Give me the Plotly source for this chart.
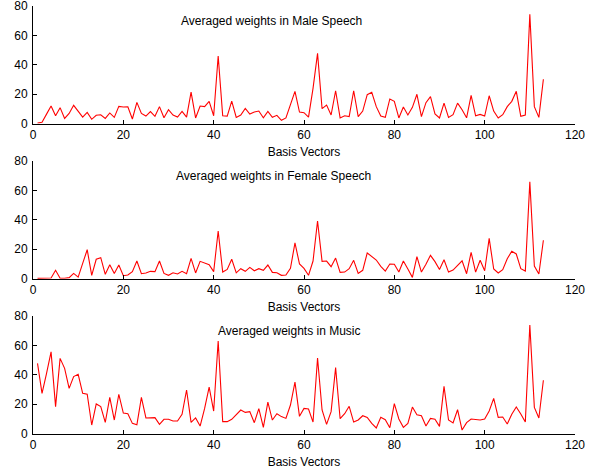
import plotly.graph_objects as go

basis = list(range(1, 114))

male = [0.5, 1, 6.5, 12, 5.4, 10.9, 3.6, 7, 12.5, 8.6,
        4.5, 7.7, 3, 5.7, 6.1, 3.6, 7.3, 4.3, 11.8, 11.3,
        11.5, 3.2, 14.5, 7, 5.2, 8.2, 5, 11.6, 4, 9.5,
        5.9, 4.5, 8.4, 4.5, 21.5, 3.9, 12, 11.6, 15.2, 5.4,
        46, 5.4, 5.2, 15.4, 4.3, 5.9, 10.4, 6.6, 7.9, 8.6,
        4, 8.4, 4.3, 5.7, 2.3, 3.9, 12.7, 22, 7.9, 7.5,
        4.5, 24, 47.8, 10.2, 12.7, 5.9, 22.4, 3.9, 5.4, 4.8,
        22.4, 4.8, 8.6, 19.7, 21.3, 11.6, 5.2, 4.3, 16.8, 15.2,
        3.9, 11.3, 5.9, 11.1, 20, 4.8, 14.3, 18.4, 6.6, 3.9,
        14, 4.3, 6.1, 14, 9.5, 4, 19.3, 5.4, 6.3, 5.2,
        19, 8.6, 3.9, 6.1, 11.6, 15.2, 22, 5, 5.9, 74.4,
        11.6, 4.3, 30.2]

female = [0.2, 0.2, 0.2, 0.5, 5.7, 0.3, 0.3, 0.7, 3.6, 1.1,
          10.4, 19.7, 2.3, 13.2, 14.3, 3, 9.5, 3.6, 9.3, 2,
          2.5, 4.8, 12, 3.4, 3.9, 5, 4.8, 12, 3.6, 2.3,
          4, 3.2, 5, 3.4, 13.8, 3.9, 11.8, 10.7, 9.5, 4.8,
          32.4, 4.5, 6.3, 13.2, 4, 6.8, 5, 7.7, 5.4, 6.8,
          5.7, 9.3, 4.3, 4, 2.3, 2.5, 7, 24.3, 10, 7,
          2.3, 12, 39.2, 11.8, 12, 8.2, 14, 4.3, 4.5, 6.8,
          12.5, 3.6, 5.7, 17.5, 15, 12.7, 8.4, 5.2, 10, 9.8,
          4.5, 12, 6.6, 0.9, 15, 4.5, 9.8, 15.9, 11.6, 6.3,
          12.9, 4.5, 5.9, 9.3, 12.2, 3.4, 17.9, 4.5, 12.5, 5.4,
          27.4, 6.6, 3.9, 6.1, 13.6, 18.6, 16.8, 6.8, 5.2, 65.8,
          8.6, 3.2, 26.1]

music = [47.8, 27.4, 41, 55.6, 18.4, 51.2, 44.4, 30.8, 38.8, 40.4,
         27.4, 26.8, 5.9, 20.2, 18.4, 7.7, 24.7, 9.3, 26.8, 14,
         13.6, 7, 6.1, 24.7, 10.7, 10.7, 10.9, 6.3, 9.8, 9.8,
         8.6, 8.6, 13.2, 29.7, 7.7, 10.7, 5.2, 17.2, 31.7, 15.4,
         63, 8.2, 8.2, 9.8, 12.9, 16.1, 14.5, 15, 7.5, 17,
         4.3, 21.5, 9.3, 13.6, 11.6, 10.4, 19.5, 35.1, 11.8, 17.2,
         16.8, 7.9, 51.5, 16.1, 6.3, 15, 44.9, 10.2, 13.6, 18.6,
         7.9, 9.3, 12.2, 11.1, 7, 3.9, 11.1, 9.5, 4.1, 20.4,
         10, 4.3, 7, 18.1, 12.9, 12.2, 5.2, 10.4, 9.8, 5,
         32.2, 9.3, 7.3, 16.3, 2.5, 7.5, 10, 9.8, 9.3, 10,
         15.4, 24, 11.1, 11.3, 6.6, 13.2, 18.1, 13.4, 7.9, 73.9,
         17.9, 10.7, 36.3]

titles = ["Averaged weights in Male Speech",
          "Averaged weights in Female Speech",
          "Averaged weights in Music"]
title_x = [52.7, 53.3, 56.7]
series = [male, female, music]
xlabel = "Basis Vectors"
x_ticks = [0, 20, 40, 60, 80, 100, 120]
y_ticks = [0, 20, 40, 60, 80]

W, H = 597, 474
domains = [[350.3 / H, 468 / H], [195.3 / H, 313 / H], [40.3 / H, 158 / H]]

font = dict(family="Liberation Sans, Arial, sans-serif", size=12, color="#000000")
fig = go.Figure()
layout = dict(width=W, height=H, margin=dict(l=33, r=22, t=0, b=0, autoexpand=False),
              plot_bgcolor="white", paper_bgcolor="white", showlegend=False,
              font=font)
annotations = []
for k, (vals, ttl, tx) in enumerate(zip(series, titles, title_x)):
    n = "" if k == 0 else str(k + 1)
    fig.add_trace(go.Scatter(x=basis, y=vals, mode="lines",
                             line=dict(color="#ff0000", width=1.1),
                             xaxis="x" + n, yaxis="y" + n, hoverinfo="skip",
                             cliponaxis=False))
    layout["xaxis" + n] = dict(domain=[0, 1], range=[0, 120], anchor="y" + n,
                               tickvals=x_ticks, ticks="inside", ticklen=4,
                               tickcolor="#000000", showline=True, linecolor="#000000",
                               linewidth=1, showgrid=False, zeroline=False,
                               automargin=False, ticklabeloverflow="allow",
                               title=dict(text=xlabel, standoff=6, font=font),
                               tickfont=font)
    layout["yaxis" + n] = dict(domain=domains[k], range=[0, 80], anchor="x" + n,
                               tickvals=y_ticks, ticks="inside", ticklen=4,
                               tickcolor="#000000", showline=True, linecolor="#000000",
                               linewidth=1, showgrid=False, zeroline=False,
                               automargin=False, ticklabelstandoff=2,
                               ticklabeloverflow="allow",
                               tickfont=font)
    annotations.append(dict(text=ttl, x=tx, y=70, xref="x" + n, yref="y" + n,
                            showarrow=False, xanchor="center", yanchor="middle",
                            font=font))
layout["annotations"] = annotations
fig.update_layout(**layout)
fig.write_html("out.html", config={"displayModeBar": False},
               post_script="document.body.style.margin='0';")
